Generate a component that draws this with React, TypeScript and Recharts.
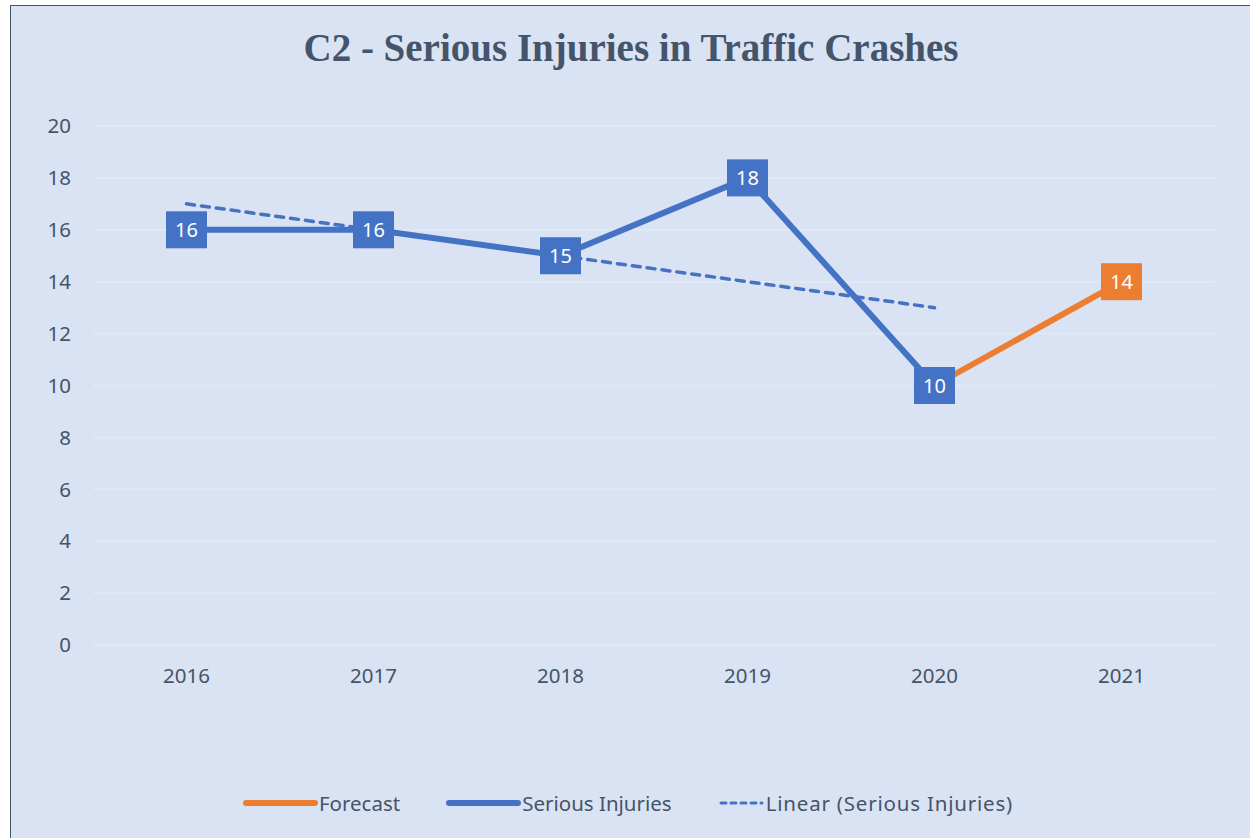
import React from "react";
import {
  LineChart,
  Line,
  XAxis,
  YAxis,
  CartesianGrid,
  Legend,
} from "recharts";

const years = ["2016", "2017", "2018", "2019", "2020", "2021"];
const seriousInjuries = [16, 16, 15, 18, 10, null];
const forecast = [null, null, null, null, 10, 14];
const linearTrend = [17, 16, 15, 14, 13, null];
const yTicks = [0, 2, 4, 6, 8, 10, 12, 14, 16, 18, 20];

const data = years.map((year, i) => ({
  year,
  serious: seriousInjuries[i],
  forecast: forecast[i],
  trend: linearTrend[i],
}));

const BLUE = "#4472C4";
const ORANGE = "#ED7D31";
const TEXT = "#44546A";
const FONT = "'Noto Sans', 'Open Sans', sans-serif";

const makeLabel = (fill: string) => (props: any) => {
  const { x, y, value } = props;
  if (value == null) return null;
  return (
    <g>
      <rect x={x - 20.5} y={y - 18.5} width={41} height={37} fill={fill} />
      <text
        x={x}
        y={y + 7}
        textAnchor="middle"
        fill="#fff"
        fontSize={20}
        fontFamily={FONT}
      >
        {value}
      </text>
    </g>
  );
};

const legendItems = [
  { name: "Forecast", color: ORANGE, dashed: false },
  { name: "Serious Injuries", color: BLUE, dashed: false },
  { name: "Linear (Serious Injuries)", color: BLUE, dashed: true },
];

const renderLegend = () => (
  <div
    style={{
      display: "flex",
      justifyContent: "center",
      alignItems: "center",
      height: 40,
      fontFamily: FONT,
      fontSize: 20.5,
      color: TEXT,
      gap: 46,
      paddingLeft: 8,
    }}
  >
    {legendItems.map((it) => (
      <div key={it.name} style={{ display: "flex", alignItems: "center" }}>
        <svg width={it.dashed ? 48 : 76} height={10}>
          <line
            x1={3}
            y1={5}
            x2={it.dashed ? 44 : 72}
            y2={5}
            stroke={it.color}
            strokeWidth={it.dashed ? 3 : 6}
            strokeLinecap="round"
            strokeDasharray={it.dashed ? "5 5" : undefined}
          />
        </svg>
        <span style={{ letterSpacing: it.dashed ? 0.8 : 0 }}>{it.name}</span>
      </div>
    ))}
  </div>
);

export default function App() {
  return (
    <div
      style={{
        position: "absolute",
        left: 0,
        top: 0,
        width: 1250,
        height: 838,
        overflow: "hidden",
        background: "#fff",
      }}
    >
      <div
        style={{
          position: "absolute",
          left: 10,
          top: 5,
          width: 1270,
          height: 860,
          background: "#DAE3F3",
          border: "1.5px solid #44546A",
        }}
      />
      <div
        style={{
          position: "absolute",
          left: 0,
          top: 25,
          width: 1262,
          textAlign: "center",
          fontFamily: "'Liberation Serif', serif",
          fontWeight: "bold",
          fontSize: 39,
          color: TEXT,
        }}
      >
        C2 - Serious Injuries in Traffic Crashes
      </div>
      <div style={{ position: "absolute", left: 0, top: 0 }}>
        <LineChart
          width={1250}
          height={838}
          data={data}
          margin={{ top: 126, right: 35, bottom: 15, left: 33 }}
        >
          <CartesianGrid
            vertical={false}
            stroke="#E4EAF3"
            strokeWidth={1.5}
          />
          <XAxis
            dataKey="year"
            height={138}
            padding={{ left: 93.5, right: 93.5 }}
            axisLine={{ stroke: "#E4EAF3", strokeWidth: 1.5 }}
            tickLine={false}
            tickSize={0}
            tickMargin={23}
            tick={{ fill: TEXT, fontSize: 20.5, fontFamily: FONT }}
          />
          <YAxis
            width={60}
            domain={[0, 20]}
            ticks={yTicks}
            axisLine={false}
            tickLine={false}
            tickSize={0}
            tickMargin={22}
            tick={{ fill: TEXT, fontSize: 20.5, fontFamily: FONT }}
          />
          <Legend
            verticalAlign="bottom"
            content={renderLegend}
            wrapperStyle={{ height: 40 }}
          />
          <Line
            dataKey="forecast"
            name="Forecast"
            stroke={ORANGE}
            strokeWidth={6}
            dot={false}
            activeDot={false}
            label={makeLabel(ORANGE)}
            isAnimationActive={false}
          />
          <Line
            dataKey="serious"
            name="Serious Injuries"
            stroke={BLUE}
            strokeWidth={6}
            dot={false}
            activeDot={false}
            label={makeLabel(BLUE)}
            isAnimationActive={false}
          />
          <Line
            dataKey="trend"
            name="Linear (Serious Injuries)"
            stroke={BLUE}
            strokeWidth={3.5}
            strokeDasharray="8 7"
            strokeLinecap="round"
            dot={false}
            activeDot={false}
            isAnimationActive={false}
          />
        </LineChart>
      </div>
    </div>
  );
}
